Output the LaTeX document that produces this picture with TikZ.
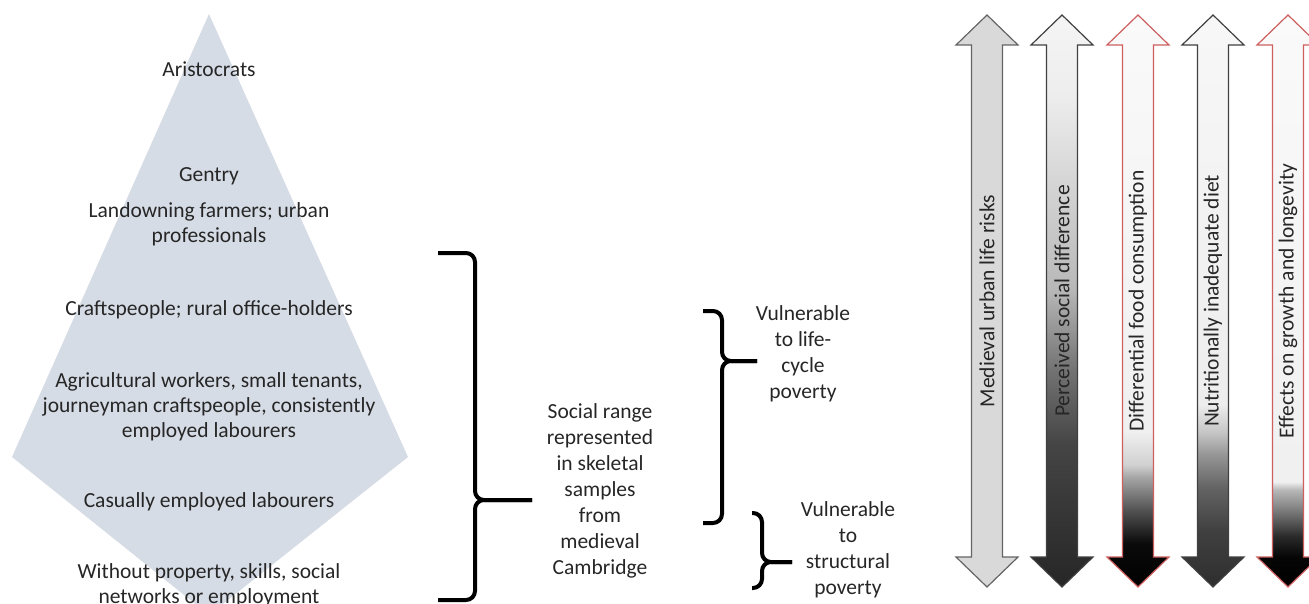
\documentclass[tikz,border=0pt]{standalone}
\usepackage{fontspec}
\setmainfont{Carlito}
\usetikzlibrary{positioning,calc}
\definecolor{pyrblue}{RGB}{214,220,229}
\definecolor{cInk}{RGB}{38,38,38}
\definecolor{cEdge}{RGB}{100,100,100}
\definecolor{cDark}{RGB}{64,64,64}
\definecolor{cRim}{RGB}{205,95,95}
% vertical shadings, path mapped to 25bp (bottom) .. 75bp (top)
\pgfdeclareverticalshading{shRisk}{100bp}{color(0bp)=(white!85!black); color(100bp)=(white!85!black)}
\pgfdeclareverticalshading{shSocial}{100bp}{color(0bp)=(white!15!black); color(25bp)=(white!15!black);
  color(37.5bp)=(white!27!black); color(44bp)=(white!45!black); color(51bp)=(white!72!black);
  color(68bp)=(white!93!black); color(75bp)=(white!96!black); color(100bp)=(white!96!black)}
\pgfdeclareverticalshading{shFood}{100bp}{color(0bp)=(black); color(25bp)=(black);
  color(28.8bp)=(white!4!black); color(31.6bp)=(white!31!black); color(34.6bp)=(white!65!black);
  color(35.7bp)=(white!82!black); color(38.6bp)=(white!94!black); color(75bp)=(white!98!black); color(100bp)=(white!98!black)}
\pgfdeclareverticalshading{shDiet}{100bp}{color(0bp)=(white!18!black); color(25bp)=(white!18!black);
  color(29.9bp)=(white!25!black); color(33.7bp)=(white!39!black); color(36.6bp)=(white!59!black);
  color(38.6bp)=(white!78!black); color(41bp)=(white!93!black); color(75bp)=(white!97!black); color(100bp)=(white!97!black)}
\pgfdeclareverticalshading{shGrowth}{100bp}{color(0bp)=(black); color(25bp)=(black);
  color(27.6bp)=(white!2!black); color(29.4bp)=(white!16!black); color(31.6bp)=(white!47!black);
  color(33.5bp)=(white!72!black); color(34.2bp)=(white!94!black); color(75bp)=(white!98!black); color(100bp)=(white!98!black)}
\tikzset{
  lvl/.style={font=\fontsize{21.5}{25}\selectfont, text=cInk, align=center, inner sep=0pt},
  grp/.style={font=\fontsize{21.5}{26}\selectfont, text=cInk, align=center, inner sep=0pt},
  vlab/.style={lvl, rotate=90},
  brc/.style={draw=black, line width=4pt, rounded corners=9pt},
  arw/.style={line width=1.2pt, line join=miter},
}
% #1 top tip, #2 bottom tip, #3 tick end, #4 spine offset
\newcommand{\drawbrace}[4]{%
  \draw[brc] (#1) -- ++(#4,0) |- (#3);
  \draw[brc] (#2) -- ++(#4,0) |- (#3);
}

\begin{document}
\begin{tikzpicture}[x=1pt, y=-1pt]
\useasboundingbox (0,0) rectangle (1309,604);

% pyramid
\fill[pyrblue] (209,14) -- (408,457) -- (209,615) -- (12,457) -- cycle;
\node[lvl] (aris)   at (209,69)  {Aristocrats};
\node[lvl] (gentry) at (209,176) {Gentry};
\node[lvl] (land)   at (209,224) {Landowning farmers; urban\\professionals};
\node[lvl] (craft)  at (209,310) {Craftspeople; rural office-holders};
\node[lvl] (agri)   at (209,407) {Agricultural workers, small tenants,\\journeyman craftspeople, consistently\\employed labourers};
\node[lvl] (casual) at (209,502) {Casually employed labourers};
\node[lvl] (nonet)  at (209,585) {Without property, skills, social\\networks or employment};

% brackets
\node[grp] (range)  at (600,491) {Social range\\represented\\in skeletal\\samples\\from\\medieval\\Cambridge};
\node[grp] (life)   at (803,354) {Vulnerable\\to life-\\cycle\\poverty};
\node[grp] (struct) at (848,550) {Vulnerable\\to\\structural\\poverty};

\coordinate (rangeTop) at (438,253);
\coordinate (rangeBot) at (438,600);
\coordinate (rangeTip) at (532,500);
\coordinate (lifeTop)  at (703,311);
\coordinate (lifeBot)  at (703,523);
\coordinate (lifeTip)  at (757,361);
\coordinate (structTop) at (752,513);
\coordinate (structBot) at (752,588);
\coordinate (structTip) at (792,562);

\drawbrace{rangeTop}{rangeBot}{rangeTip}{37}
\drawbrace{lifeTop}{lifeBot}{lifeTip}{19}
\drawbrace{structTop}{structBot}{structTip}{10}

% double arrows
\foreach \ax/\shd/\edg/\txt [count=\i] in {
    987/shRisk/cEdge/{Medieval urban life risks},
    1062/shSocial/cDark/{Perceived social difference},
    1138/shFood/cRim/{Differential food consumption},
    1213/shDiet/cDark/{Nutritionally inadequate diet},
    1288/shGrowth/cRim/{Effects on growth and longevity}} {
  \shade[arw, shading=\shd, draw=\edg] (\ax,15) -- ++(31,30) -- ++(-15.5,0) -- ++(0,512)
    -- ++(15.5,0) -- ++(-31,30) -- ++(-31,-30) -- ++(15.5,0) -- ++(0,-512) -- ++(-15.5,0) -- cycle;
  \node[vlab] (risk\i) at (\ax,301) {\txt};
}
\end{tikzpicture}
\end{document}
